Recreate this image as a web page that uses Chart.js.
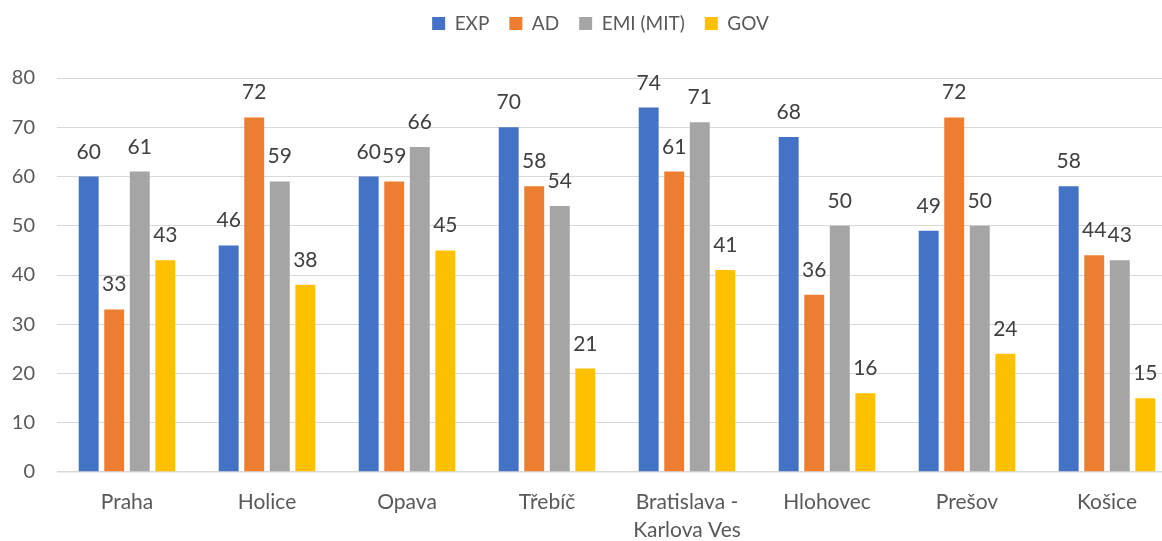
<!DOCTYPE html>
<html>
<head>
<meta charset="utf-8">
<script src="https://cdn.jsdelivr.net/npm/chart.js@4.4.1/dist/chart.umd.min.js"></script>
<style>
  html, body { margin: 0; padding: 0; background: #ffffff; overflow: hidden; }
  #wrap { width: 1180px; height: 541px; position: relative; }
</style>
</head>
<body>
<div id="wrap"><canvas id="c" width="1180" height="541"></canvas></div>
<script>
const categories = ['Praha', 'Holice', 'Opava', 'Třebíč', ['Bratislava -', 'Karlova Ves'], 'Hlohovec', 'Prešov', 'Košice'];
const expValues = [60, 46, 60, 70, 74, 68, 49, 58];
const adValues  = [33, 72, 59, 58, 61, 36, 72, 44];
const emiValues = [61, 59, 66, 54, 71, 50, 50, 43];
const govValues = [43, 38, 45, 21, 41, 16, 24, 15];
const seriesNames = ['EXP', 'AD', 'EMI (MIT)', 'GOV'];
const yTicks = [0, 10, 20, 30, 40, 50, 60, 70, 80];

const colors = ['#4472C4', '#ED7D31', '#A5A5A5', '#FFC000'];
const FONT = 'Lato, "Liberation Sans", sans-serif';

const valueLabels = {
  id: 'valueLabels',
  afterDatasetsDraw(chart) {
    const ctx = chart.ctx;
    ctx.save();
    ctx.font = '21px ' + FONT;
    ctx.fillStyle = '#404040';
    ctx.textAlign = 'center';
    ctx.textBaseline = 'alphabetic';
    chart.data.datasets.forEach((ds, i) => {
      chart.getDatasetMeta(i).data.forEach((bar, j) => {
        ctx.fillText(String(ds.data[j]), bar.x, bar.y - 18);
      });
    });
    ctx.restore();
  }
};

const legendTweak = {
  id: 'legendTweak',
  beforeInit(chart) {
    const fit = chart.legend.fit;
    chart.legend.fit = function () {
      fit.call(this);
      this.height = 78;
    };
  },
  afterLayout(chart) {
    chart.legend.left += 12;
    chart.legend.right += 12;
    chart.legend.top -= 6;
    chart.legend.bottom -= 6;
  }
};

new Chart(document.getElementById('c'), {
  type: 'bar',
  data: {
    labels: categories,
    datasets: seriesNames.map((name, i) => ({
      label: name,
      data: [expValues, adValues, emiValues, govValues][i],
      backgroundColor: colors[i],
      borderWidth: 0,
      categoryPercentage: 0.73,
      barPercentage: 0.78
    }))
  },
  options: {
    responsive: false,
    animation: false,
    layout: { padding: { left: 0, right: 3, top: 0, bottom: 0 } },
    plugins: {
      legend: {
        position: 'top',
        align: 'center',
        labels: {
          font: { family: FONT, size: 19 },
          color: '#595959',
          boxWidth: 13,
          boxHeight: 13,
          padding: 20
        }
      },
      tooltip: { enabled: false }
    },
    scales: {
      x: {
        grid: { display: false, drawTicks: false, tickLength: 0 },
        border: { display: false },
        ticks: {
          font: { family: FONT, size: 21, lineHeight: 1.34 },
          color: '#595959',
          padding: 16,
          maxRotation: 0,
          autoSkip: false
        },
        afterFit(scale) { scale.height = 69; }
      },
      y: {
        min: 0,
        max: 80,
        afterBuildTicks(scale) { scale.ticks = yTicks.map(v => ({ value: v })); },
        grid: {
          color: '#D9D9D9',
          lineWidth: (ctx) => ctx.tick && ctx.tick.value === 0 ? 1.5 : 1,
          drawTicks: false
        },
        border: { display: false },
        ticks: {
          font: { family: FONT, size: 20 },
          color: '#595959',
          padding: 22
        },
        afterFit(scale) { scale.width = 57; }
      }
    }
  },
  plugins: [valueLabels, legendTweak]
});
</script>
</body>
</html>
